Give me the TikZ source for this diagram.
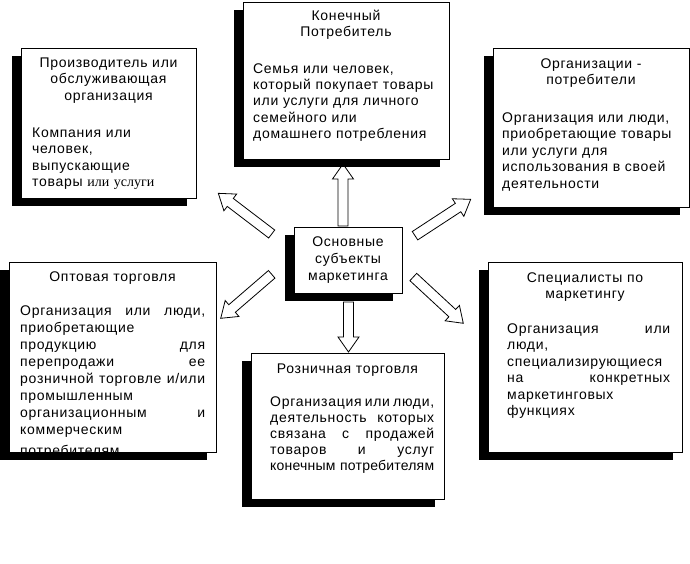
\documentclass[tikz,border=0pt]{standalone}
\usepackage{fontspec}
\setmainfont{Liberation Sans}[LetterSpace=5]
\newfontfamily\serifx{Liberation Serif}
\usetikzlibrary{shadows,calc}
\tikzset{
  box/.style={draw, fill=white, line width=0.8pt, inner sep=0pt,
    drop shadow={shadow xshift=-9pt, shadow yshift=-8pt, opacity=1, fill=black}},
  ttl/.style={anchor=north, inner sep=0pt, align=center, text width=#1},
  bdy/.style={anchor=north west, inner sep=0pt, align=left, text width=#1},
  barrow/.style={draw, fill=white, line width=0.8pt, line join=miter}
}
\newcommand\fl{\rule{0pt}{12pt}}
\newcommand\blockarrow[2]{%
  \draw[barrow] let \p1=(#1), \p2=(#2),
    \n1={atan2(\y2-\y1,\x2-\x1)}, \n2={veclen(\x2-\x1,\y2-\y1)} in
    [shift={(\p1)}, rotate=\n1]
    (0,-5) -- ({\n2-15},-5) -- ({\n2-15},-10.5) -- ({\n2},0) --
    ({\n2-15},10.5) -- ({\n2-15},5) -- (0,5) -- cycle;}
\begin{document}
\begin{tikzpicture}[x=1pt,y=-1pt, font=\fontsize{14}{16.5}\selectfont]
\useasboundingbox[fill=white] (0,0) rectangle (690,563);

% arrow end points
\coordinate (uS) at (343,226);   \coordinate (uE) at (343,164);
\coordinate (ulS) at (271.7,234); \coordinate (ulE) at (218.3,193.3);
\coordinate (urS) at (415,235.7); \coordinate (urE) at (470.7,199.3);
\coordinate (llS) at (271.7,274.3); \coordinate (llE) at (220.7,318.3);
\coordinate (lrS) at (413.3,277); \coordinate (lrE) at (463.3,323.3);
\coordinate (dS) at (348.5,302); \coordinate (dE) at (348.5,352);

\blockarrow{uS}{uE}
\blockarrow{ulS}{ulE}
\blockarrow{urS}{urE}
\blockarrow{llS}{llE}
\blockarrow{lrS}{lrE}
\blockarrow{dS}{dE}

% boxes
\node[box, minimum width=175pt, minimum height=150pt] (prod) at (108.5,123) {};
\node[box, minimum width=206pt, minimum height=157pt] (cons) at (346,80.5) {};
\node[box, minimum width=196pt, minimum height=159pt] (org) at (591,127.5) {};
\node[box, minimum width=207pt, minimum height=190pt] (wh) at (112.5,357) {};
\node[box, minimum width=193pt, minimum height=146pt] (ret) at (347.5,426) {};
\node[box, minimum width=194pt, minimum height=190pt] (spec) at (585,357) {};
\node[box, minimum width=108pt, minimum height=66pt] (cen) at (348,260) {};

% center
\node[ttl=100pt, font=\fontsize{14}{17}\selectfont] (cenT) at (348,234)
  {\fl Основные\\субъекты\\маркетинга};

% producer
\node[ttl=170pt] (prodT) at (108.5,55) {\fl Производитель или\\обслуживающая\\организация};
\node[bdy=160pt] (prodB) at (32,125) {\fl Компания или\\человек,\\выпускающие\\товары {\serifx\addfontfeature{LetterSpace=0}или услуги}};

% consumer
\node[ttl=200pt, font=\fontsize{14}{16.3}\selectfont] (consT) at (346,8) {\fl Конечный\\Потребитель};
\node[bdy=195pt, font=\fontsize{14}{16.3}\selectfont] (consB) at (253,61)
  {\fl Семья или человек,\\который покупает товары\\или услуги для личного\\семейного или\\домашнего потребления};

% organisations
\node[ttl=190pt] (orgT) at (591,56) {\fl Организации -\\потребители};
\node[bdy=185pt] (orgB) at (502,110)
  {\fl Организация или люди,\\приобретающие товары\\или услуги для\\использования в своей\\деятельности};

% wholesale
\node[ttl=200pt] (whT) at (112.5,269) {\fl Оптовая торговля};
\node[bdy=185pt, font=\fontsize{14}{17}\selectfont] (whB) at (20,303)
  {\fl Организация\hfill или\hfill люди,\\
   приобретающие\\
   продукцию\hfill для\\
   перепродажи\hfill ее\\
   розничной\hfill торговле\hfill и/или\\
   промышленным\\
   организационным\hfill и\\
   коммерческим\\[4pt]
   потребителям};
\fill[black] ([xshift=-9pt]wh.south west) rectangle ([xshift=-9pt,yshift=-8pt]wh.south east);
\draw[line width=0.8pt] (wh.south west) -- (wh.south east);

% retail
\node[ttl=185pt] (retT) at (347.5,361) {\fl Розничная торговля};
\node[bdy=164pt, font=\fontsize{14}{16}\selectfont] (retB) at (270,394)
  {\fl Организация\hfill или\hfill люди,\\
   деятельность\hfill которых\\
   связана\hfill с\hfill продажей\\
   товаров\hfill и\hfill услуг\\
   \mbox{\addfontfeature{LetterSpace=1.5}конечным потребителям}};

% specialists
\node[ttl=185pt, font=\fontsize{14}{16}\selectfont] (specT) at (585,270) {\fl Специалисты по\\маркетингу};
\node[bdy=163pt] (specB) at (507,321)
  {\fl Организация\hfill или\\
   люди,\\
   специализирующиеся\\
   на\hfill конкретных\\
   маркетинговых\\
   функциях};
\end{tikzpicture}
\end{document}
